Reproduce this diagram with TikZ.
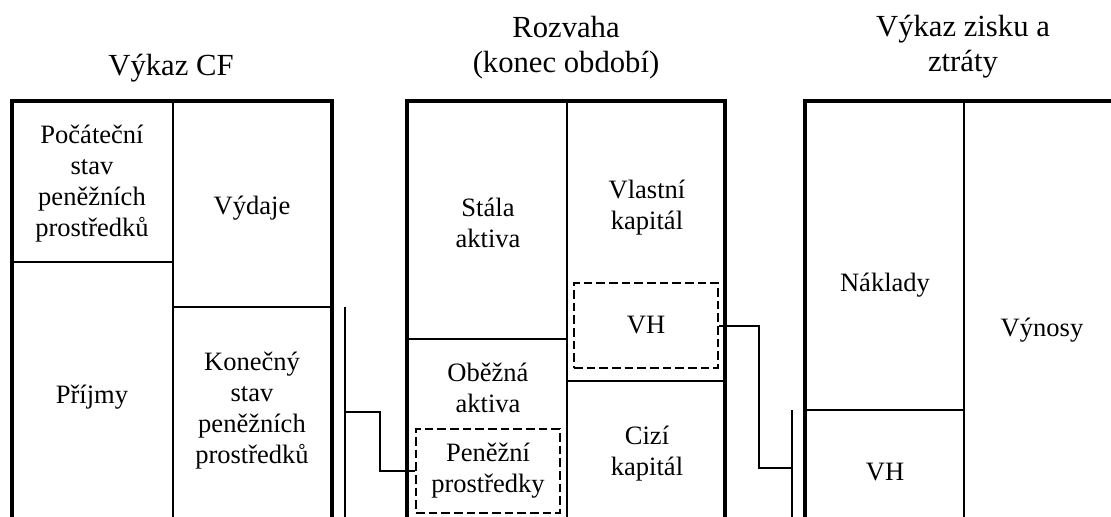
\documentclass[tikz,border=0pt]{standalone}
\usepackage{fontspec}
\setmainfont{Liberation Serif}
\usetikzlibrary{calc}
\begin{document}
\begin{tikzpicture}[x=0.75pt,y=-0.75pt,
  thickbox/.style={line width=3pt},
  thinline/.style={line width=1.5pt},
  dashbox/.style={draw, line width=1.5pt, dash pattern=on 6.5pt off 3pt},
  lbl/.style={align=center, inner sep=0pt, font=\fontsize{19.9}{23.25}\selectfont},
  ttl/.style={align=center, inner sep=0pt, font=\fontsize{23}{26.25}\selectfont},
  conn/.style={line width=1.5pt}]
\useasboundingbox (0,0) rectangle (1111,517);
\clip (0,0) rectangle (1111,517);
% titles
\node[ttl] (tcf) at (171,68) {Výkaz CF};
\node[ttl] (troz) at (566,48) {Rozvaha\\(konec období)};
\node[ttl] (tvzz) at (963,47) {Výkaz zisku a\\ztráty};
% Výkaz CF
\draw[thinline] (173,101) -- (173,530);
\draw[thinline] (12,262) -- (173,262);
\draw[thinline] (173,307) -- (332,307);
\draw[thickbox] (12,530) -- (12,101) -- (332,101) -- (332,530);
\node[lbl] (pocst) at (92,184) {Počáteční\\stav\\peněžních\\prostředků};
\node[lbl] (vyd) at (252,208) {Výdaje};
\node[lbl] (prij) at (92,397) {Příjmy};
\node[lbl] (konst) at (252,411) {Konečný\\stav\\peněžních\\prostředků};
% Rozvaha
\draw[thinline] (567,101) -- (567,530);
\draw[thinline] (407,339) -- (567,339);
\draw[thinline] (567,381) -- (725,381);
\draw[thickbox] (407,530) -- (407,101) -- (725,101) -- (725,530);
\node[lbl] (stak) at (488,223) {Stála\\aktiva};
\node[lbl] (vlk) at (647,208) {Vlastní\\kapitál};
\node[dashbox, lbl, minimum width=108pt, minimum height=63.75pt] (vhr) at (646,325.5) {VH};
\node[lbl] (obak) at (488,388) {Oběžná\\aktiva};
\node[dashbox, lbl, minimum width=108pt, minimum height=63pt] (penp) at (488,471) {Peněžní\\prostředky};
\node[lbl] (cizk) at (647,454) {Cizí\\kapitál};
% Výkaz zisku a ztráty
\draw[thinline] (964,101) -- (964,530);
\draw[thinline] (805,410) -- (964,410);
\draw[thickbox] (805,530) -- (805,101) -- (1120,101);
\node[lbl] (nakl) at (885,285) {Náklady};
\node[lbl] (vyn) at (1042,330) {Výnosy};
\node[lbl] (vhz) at (885,472) {VH};
% connectors
\coordinate (b1top) at (345,307);
\coordinate (b1bot) at (345,530);
\coordinate (b1mid) at (345,412);
\draw[conn] (b1top) -- (b1bot);
\draw[conn] (b1mid) -- ++(35,0) |- (penp.west);
\coordinate (b2top) at (792,410);
\coordinate (b2bot) at (792,530);
\coordinate (b2mid) at (792,468);
\draw[conn] (b2top) -- (b2bot);
\draw[conn] (vhr.east) -- ++(40,0) |- (b2mid);
\end{tikzpicture}
\end{document}
